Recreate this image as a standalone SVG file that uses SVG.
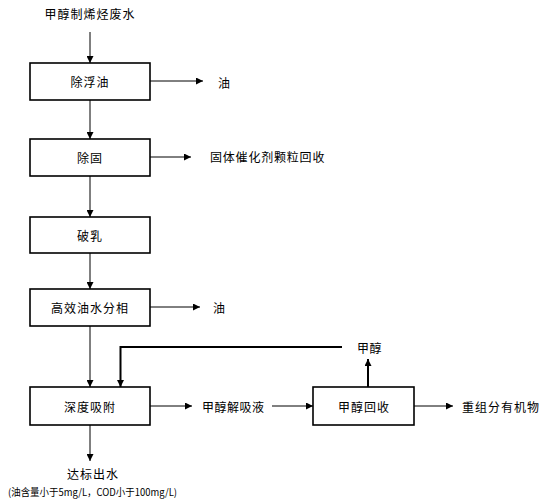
<svg xmlns="http://www.w3.org/2000/svg" width="548" height="503" viewBox="0 0 548 503">
<style>
text{font-family:"Noto Sans CJK SC","Liberation Sans",sans-serif;font-size:12px;fill:#000;dominant-baseline:central}
.c{text-anchor:middle}
.box{fill:#fff;stroke:#000;stroke-width:1.6}
.ln{fill:none;stroke:#000;stroke-width:1}
.th{stroke-width:2}
</style>
<defs>
<marker id="ah" viewBox="0 0 10 10" refX="10" refY="5" markerWidth="7" markerHeight="7" markerUnits="userSpaceOnUse" orient="auto">
<path d="M0,0 L10,5 L0,10 z" fill="#000"/>
</marker>
</defs>
<g id="connectors">
<path class="ln" d="M90,32 V63" marker-end="url(#ah)"/>
<path class="ln" d="M90,100 V139" marker-end="url(#ah)"/>
<path class="ln" d="M90,176 V217" marker-end="url(#ah)"/>
<path class="ln" d="M90,253 V289" marker-end="url(#ah)"/>
<path class="ln" d="M90,326 V387" marker-end="url(#ah)"/>
<path class="ln" d="M90,425 V461" marker-end="url(#ah)"/>
<path class="ln" d="M150,81 H203" marker-end="url(#ah)"/>
<path class="ln" d="M150,157 H191" marker-end="url(#ah)"/>
<path class="ln" d="M150,307 H200" marker-end="url(#ah)"/>
<path class="ln" d="M150,406 H192" marker-end="url(#ah)"/>
<path class="ln" d="M272,406 H313" marker-end="url(#ah)"/>
<path class="ln" d="M414,406 H453" marker-end="url(#ah)"/>
<path class="ln th" d="M342,347 H120.5 V387" marker-end="url(#ah)"/>
<path class="ln th" d="M368,387 V359" marker-end="url(#ah)"/>
</g>
<g id="src"><text class="c" x="90" y="13" letter-spacing="1">甲醇制烯烃废水</text></g>
<g id="n1"><rect class="box" x="30" y="63" width="120" height="37"/><text class="c" x="90" y="81" letter-spacing="1">除浮油</text></g>
<g id="o1"><text x="218" y="82">油</text></g>
<g id="n2"><rect class="box" x="30" y="139" width="120" height="37"/><text class="c" x="90" y="157" letter-spacing="1">除固</text></g>
<g id="o2"><text x="210" y="156" letter-spacing="0.8">固体催化剂颗粒回收</text></g>
<g id="n3"><rect class="box" x="30" y="217" width="120" height="36"/><text class="c" x="90" y="235" letter-spacing="1">破乳</text></g>
<g id="n4"><rect class="box" x="30" y="289" width="120" height="37"/><text class="c" x="90" y="307" letter-spacing="1">高效油水分相</text></g>
<g id="o4"><text x="213" y="307">油</text></g>
<g id="n5"><rect class="box" x="30" y="387" width="120" height="38"/><text class="c" x="90" y="406" letter-spacing="1">深度吸附</text></g>
<g id="l5"><text x="202" y="406" letter-spacing="0.5">甲醇解吸液</text></g>
<g id="n6"><rect class="box" x="313" y="387" width="101" height="38"/><text class="c" x="364" y="406" letter-spacing="1">甲醇回收</text></g>
<g id="m6"><text x="357" y="347" letter-spacing="0.5">甲醇</text></g>
<g id="o6"><text x="462" y="406" letter-spacing="1">重组分有机物</text></g>
<g id="out"><text class="c" x="93" y="473" letter-spacing="1">达标出水</text>
<text x="8" y="491" font-size="10" textLength="169" lengthAdjust="spacingAndGlyphs" style="font-size:10px">(油含量小于5mg/L，COD小于100mg/L)</text></g>
</svg>
